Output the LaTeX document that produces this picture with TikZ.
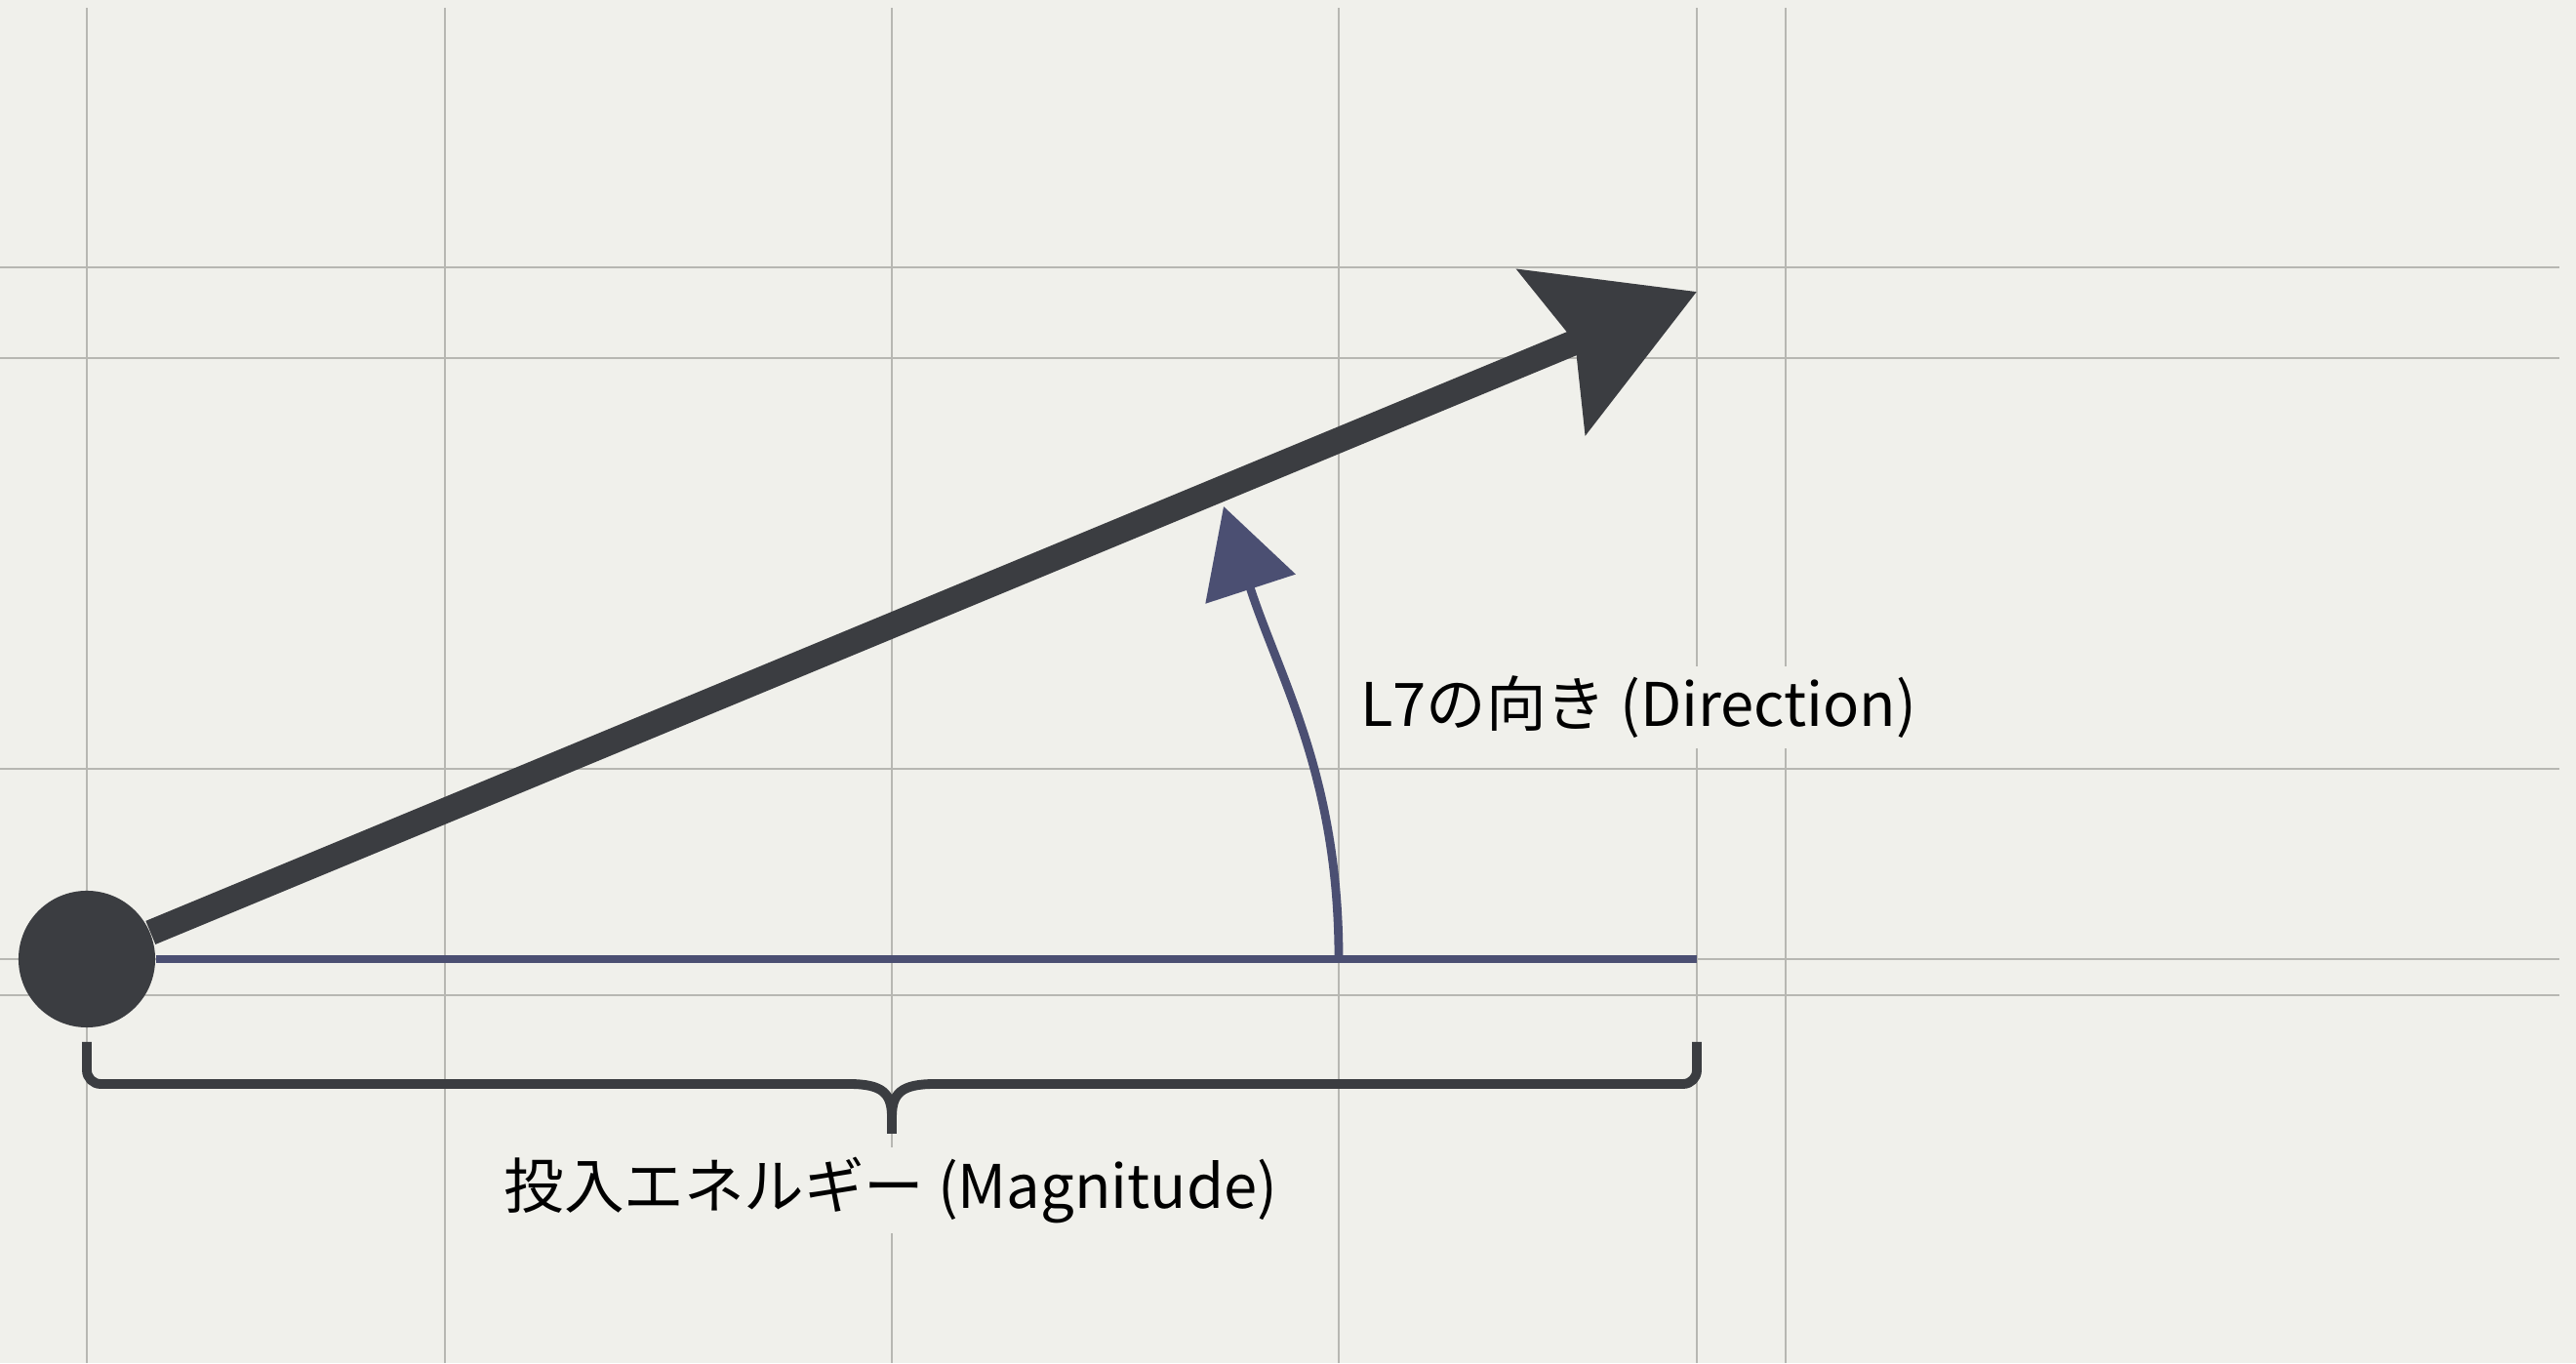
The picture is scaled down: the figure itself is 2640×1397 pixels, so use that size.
\documentclass[tikz,border=0pt]{standalone}
\usepackage{fontspec}
\setmainfont{Noto Sans CJK JP}
\usetikzlibrary{arrows.meta}
\definecolor{paper}{HTML}{F0F0EB}
\definecolor{gridgray}{HTML}{B7B7B2}
\definecolor{ink}{HTML}{3B3D41}
\definecolor{slate}{HTML}{4B4F72}
\tikzset{
  gridline/.style={draw=gridgray,line width=0.6pt},
  origin dot/.style={circle,fill=ink,minimum size=1.4cm,inner sep=0pt},
  vector/.style={draw=ink,line width=7.4pt,-{Stealth[length=16mm,width=18mm,inset=2.5mm]}},
  baseline ray/.style={draw=slate,line width=2.3pt},
  angle arrow/.style={draw=slate,line width=2.5pt,-{Triangle[length=8.9mm,width=9.5mm]}},
  brace line/.style={draw=ink,line width=2.8pt,line join=round},
  notetext/.style={fill=paper,inner sep=3pt,font=\fontsize{17.5}{21}\selectfont}
}

\begin{document}
\begin{tikzpicture}[x=0.01cm,y=0.01cm]
  \fill[paper] (0,0) rectangle (2640,1397);
  \useasboundingbox (0,0) rectangle (2640,1397);
  \foreach \gx in {89,456,914,1372,1739,1830}
    \draw[gridline] (\gx,0) -- (\gx,1389);
  \foreach \gy in {377,414,609,1030,1123}
    \draw[gridline] (0,\gy) -- (2623,\gy);

  \node[origin dot] (origin) at (89,414) {};
  \coordinate (tip) at (1739,1098);
  \coordinate (ray end) at (1739,414);
  \coordinate (arc start) at (1372,414);
  \coordinate (arc end) at (1254,878);

  \draw[baseline ray] (origin) -- (ray end);
  \draw[vector] (origin) -- (tip);
  \draw[angle arrow] (arc start) .. controls (1372,601) and (1312,700) .. (arc end);

  \node[notetext,anchor=west] (direction) at (1383,672) {L7の向き (Direction)};

  % brace under the ray
  \coordinate (brace left) at (89,329);
  \coordinate (brace right) at (1739,329);
  \coordinate (brace tip) at (914,235);
  \draw[brace line] (brace left) [rounded corners=4pt] -- (89,286) [sharp corners] -- (870,286)
    .. controls (905,286) and (914,276) .. (914,252) -- (brace tip);
  \draw[brace line] (brace right) [rounded corners=4pt] -- (1739,286) [sharp corners] -- (958,286)
    .. controls (923,286) and (914,276) .. (914,252) -- (brace tip);

  \node[notetext] (magnitude) at (913,177) {投入エネルギー (Magnitude)};
\end{tikzpicture}
\end{document}
